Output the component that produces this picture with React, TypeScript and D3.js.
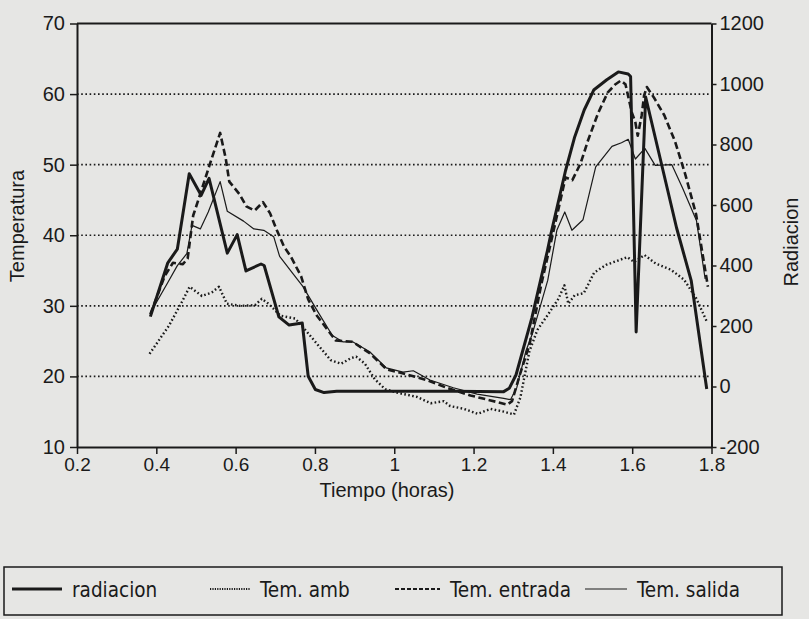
import * as d3 from 'd3';
import { useEffect, useRef } from 'react';

// time axis (horas) and the two value axes
const timeTicks = [0.2, 0.4, 0.6, 0.8, 1.0, 1.2, 1.4, 1.6, 1.8];
const tempTicks = [10, 20, 30, 40, 50, 60, 70];
const radTicks = [-200, 0, 200, 400, 600, 800, 1000, 1200];
const gridTemps = [20, 30, 40, 50, 60];

// [tiempo, W/m2]
const radiacion: [number, number][] = [
  [0.385, 231], [0.429, 409], [0.453, 454], [0.483, 703], [0.513, 632], [0.533, 688],
  [0.579, 441], [0.604, 502], [0.626, 382], [0.664, 405], [0.672, 400], [0.709, 230],
  [0.735, 203], [0.768, 210], [0.783, 34], [0.801, -10], [0.823, -20], [0.855, -16],
  [1.024, -16], [1.15, -16], [1.276, -17], [1.29, -6], [1.307, 38], [1.347, 227],
  [1.386, 448], [1.395, 504], [1.432, 714], [1.455, 825], [1.479, 914], [1.503, 980],
  [1.536, 1014], [1.565, 1040], [1.59, 1033], [1.596, 1025], [1.61, 180], [1.634, 957],
  [1.712, 524], [1.749, 349], [1.788, -8],
];

// [tiempo, grados C]
const temAmb: [number, number][] = [
  [0.383, 23.2], [0.432, 27.2], [0.464, 30.5], [0.484, 32.7], [0.515, 31.4], [0.54, 31.9],
  [0.558, 32.7], [0.578, 30.3], [0.611, 30.0], [0.649, 30.1], [0.666, 31.0], [0.683, 30.3],
  [0.713, 28.6], [0.75, 28.2], [0.768, 27.1], [0.807, 24.5], [0.84, 22.3], [0.866, 21.8],
  [0.891, 22.6], [0.904, 22.8], [0.926, 21.8], [0.951, 19.6], [0.977, 18.2], [1.007, 17.7],
  [1.057, 17.1], [1.092, 16.2], [1.125, 16.5], [1.141, 15.8], [1.176, 15.4], [1.21, 14.7],
  [1.243, 15.4], [1.277, 15.0], [1.302, 14.6], [1.318, 17.0], [1.341, 23.6], [1.361, 26.6],
  [1.387, 28.7], [1.414, 31.0], [1.429, 32.9], [1.439, 30.3], [1.455, 31.5], [1.478, 31.8],
  [1.504, 34.7], [1.534, 35.8], [1.588, 36.9], [1.605, 36.2], [1.631, 37.2], [1.659, 36.0],
  [1.698, 35.1], [1.731, 33.7], [1.762, 31.0], [1.788, 27.8],
];

const temEntrada: [number, number][] = [
  [0.385, 28.8], [0.421, 34.2], [0.442, 36.1], [0.467, 35.9], [0.479, 36.7], [0.493, 42.8],
  [0.51, 45.7], [0.534, 49.9], [0.561, 54.5], [0.575, 50.9], [0.584, 47.6], [0.61, 45.8],
  [0.627, 44.1], [0.648, 43.5], [0.669, 44.7], [0.687, 43.1], [0.704, 40.7], [0.722, 38.4],
  [0.739, 37.0], [0.765, 34.2], [0.783, 30.9], [0.805, 28.6], [0.836, 26.3], [0.852, 25.1],
  [0.895, 24.9], [0.938, 23.3], [0.981, 21.0], [1.023, 20.4], [1.081, 19.5], [1.132, 18.4],
  [1.192, 17.3], [1.243, 16.6], [1.285, 16.0], [1.297, 16.5], [1.317, 20.3], [1.341, 24.5],
  [1.371, 33.1], [1.402, 40.7], [1.432, 48.2], [1.449, 47.8], [1.47, 50.2], [1.489, 53.5],
  [1.514, 57.3], [1.538, 60.2], [1.558, 61.4], [1.571, 61.9], [1.583, 61.4], [1.599, 57.4],
  [1.608, 56.0], [1.614, 54.1], [1.624, 57.0], [1.63, 59.8], [1.637, 61.0], [1.656, 59.4],
  [1.681, 57.0], [1.708, 53.3], [1.734, 48.6], [1.761, 43.0], [1.791, 32.7],
];

const temSalida: [number, number][] = [
  [0.385, 29.0], [0.429, 33.3], [0.453, 35.7], [0.477, 37.4], [0.49, 41.4], [0.511, 40.9],
  [0.531, 43.3], [0.561, 47.6], [0.579, 43.4], [0.62, 42.0], [0.646, 40.9], [0.671, 40.7],
  [0.696, 39.8], [0.711, 37.0], [0.744, 34.6], [0.769, 32.8], [0.809, 29.0], [0.844, 25.8],
  [0.87, 24.9], [0.895, 24.9], [0.938, 23.5], [0.98, 21.2], [1.022, 20.6], [1.048, 20.8],
  [1.09, 19.5], [1.149, 18.4], [1.209, 17.5], [1.276, 16.9], [1.293, 16.7], [1.309, 18.4],
  [1.332, 23.6], [1.348, 26.0], [1.387, 33.6], [1.41, 40.7], [1.43, 43.3], [1.448, 40.7],
  [1.476, 42.2], [1.508, 49.7], [1.549, 52.6], [1.573, 53.1], [1.59, 53.6], [1.608, 50.8],
  [1.632, 52.3], [1.658, 49.9], [1.7, 50.0], [1.727, 46.7], [1.762, 42.1], [1.784, 33.8],
];

const legendLabels = ['radiacion', 'Tem. amb', 'Tem. entrada', 'Tem. salida'];

const INK = '#1a1a1a';
const FONT = '"Liberation Sans", Arial, Helvetica, sans-serif';
const LEGEND_FONT = '"DejaVu Sans Condensed", "DejaVu Sans", sans-serif';

const lineStyles = [
  { width: 3, dash: null },
  { width: 2.4, dash: '1.6 2.4' },
  { width: 2.6, dash: '7 3.5' },
  { width: 1.2, dash: null },
];

export default function App() {
  const ref = useRef<SVGSVGElement>(null);

  useEffect(() => {
    const width = 809;
    const height = 619;
    const svg = d3.select(ref.current);
    svg.selectAll('*').remove();
    svg.attr('width', width).attr('height', height).attr('viewBox', `0 0 ${width} ${height}`);

    const left = 77;
    const right = 711.5;
    const top = 23.5;
    const bottom = 447;

    svg.append('rect').attr('width', width).attr('height', height).attr('fill', '#e6e6e4');

    const x = d3.scaleLinear().domain([0.2, 1.8]).range([left, right]);
    const yT = d3.scaleLinear().domain([10, 70]).range([bottom, top]);
    const yR = d3.scaleLinear().domain([-200, 1200]).range([bottom, top]);

    // dotted gridlines on the temperature axis
    svg.append('g')
      .selectAll('line')
      .data(gridTemps)
      .enter()
      .append('line')
      .attr('x1', left)
      .attr('x2', right)
      .attr('y1', (d) => yT(d))
      .attr('y2', (d) => yT(d))
      .attr('stroke', INK)
      .attr('stroke-width', 1.6)
      .attr('stroke-dasharray', '1.6 2.6');

    const styleAxis = (g: any, size: number) => {
      g.select('.domain').attr('stroke', INK).attr('stroke-width', 2);
      g.selectAll('.tick line').attr('stroke', INK).attr('stroke-width', 1.5);
      g.selectAll('.tick text')
        .attr('fill', INK)
        .style('font-family', FONT)
        .style('font-size', `${size}px`);
    };

    svg.append('g')
      .attr('transform', `translate(${left},0)`)
      .call(d3.axisLeft(yT).tickValues(tempTicks).tickSize(7).tickPadding(5).tickSizeOuter(0))
      .call((g) => styleAxis(g, 20));

    svg.append('g')
      .attr('transform', `translate(${right},0)`)
      .call(
        d3.axisRight(yR)
          .tickValues(radTicks)
          .tickFormat((d) => String(d))
          .tickSize(5)
          .tickPadding(3)
          .tickSizeOuter(0)
      )
      .call((g) => styleAxis(g, 20));

    svg.append('g')
      .attr('transform', `translate(0,${bottom})`)
      .call(
        d3.axisBottom(x)
          .tickValues(timeTicks)
          .tickFormat((d) => String(+(+d).toFixed(1)))
          .tickSize(7)
          .tickPadding(4)
          .tickSizeOuter(0)
      )
      .call((g) => styleAxis(g, 19));

    svg.append('line')
      .attr('x1', left)
      .attr('x2', right)
      .attr('y1', top)
      .attr('y2', top)
      .attr('stroke', INK)
      .attr('stroke-width', 2);

    // axis titles
    svg.append('text')
      .attr('transform', `translate(24,226) rotate(-90)`)
      .attr('text-anchor', 'middle')
      .attr('fill', INK)
      .style('font-family', FONT)
      .style('font-size', '20px')
      .text('Temperatura');

    svg.append('text')
      .attr('transform', `translate(798,242) rotate(-90)`)
      .attr('text-anchor', 'middle')
      .attr('fill', INK)
      .style('font-family', FONT)
      .style('font-size', '20px')
      .text('Radiacion');

    svg.append('text')
      .attr('x', 387)
      .attr('y', 497)
      .attr('text-anchor', 'middle')
      .attr('fill', INK)
      .style('font-family', FONT)
      .style('font-size', '20px')
      .text('Tiempo (horas)');

    const lineT = d3.line<[number, number]>().x((d) => x(d[0])).y((d) => yT(d[1]));
    const lineR = d3.line<[number, number]>().x((d) => x(d[0])).y((d) => yR(d[1]));

    const series = [
      { data: radiacion, gen: lineR },
      { data: temAmb, gen: lineT },
      { data: temEntrada, gen: lineT },
      { data: temSalida, gen: lineT },
    ];

    const plot = svg.append('g');
    [1, 3, 2, 0].forEach((i) => {
      const s = series[i];
      const st = lineStyles[i];
      plot.append('path')
        .attr('d', s.gen(s.data))
        .attr('fill', 'none')
        .attr('stroke', INK)
        .attr('stroke-width', st.width)
        .attr('stroke-linejoin', 'round')
        .attr('stroke-dasharray', st.dash);
    });

    // legend
    const legend = svg.append('g');
    legend.append('rect')
      .attr('x', 4)
      .attr('y', 567)
      .attr('width', 778)
      .attr('height', 48)
      .attr('fill', 'none')
      .attr('stroke', INK)
      .attr('stroke-width', 1.5);

    const sampleX = [12, 210, 395, 585];
    const sampleW = [50, 40, 45, 42];
    const ly = 590;
    legendLabels.forEach((label, i) => {
      legend.append('line')
        .attr('x1', sampleX[i])
        .attr('x2', sampleX[i] + sampleW[i])
        .attr('y1', ly - 1)
        .attr('y2', ly - 1)
        .attr('stroke', INK)
        .attr('stroke-width', i === 0 ? 2.8 : i === 3 ? 1.2 : 2)
        .attr('stroke-dasharray', i === 1 ? '1.2 1.2' : i === 2 ? '4 2' : null);
      legend.append('text')
        .attr('x', sampleX[i] + sampleW[i] + 10)
        .attr('y', ly + 7)
        .attr('fill', INK)
        .style('font-family', LEGEND_FONT)
        .style('font-size', '20.5px')
        .text(label);
    });

    return () => {
      svg.selectAll('*').remove();
    };
  }, []);

  return (
    <svg
      ref={ref}
      style={{ position: 'absolute', left: 0, top: 0, display: 'block' }}
      role="img"
      aria-label="Temperatura y radiacion vs tiempo"
    />
  );
}
